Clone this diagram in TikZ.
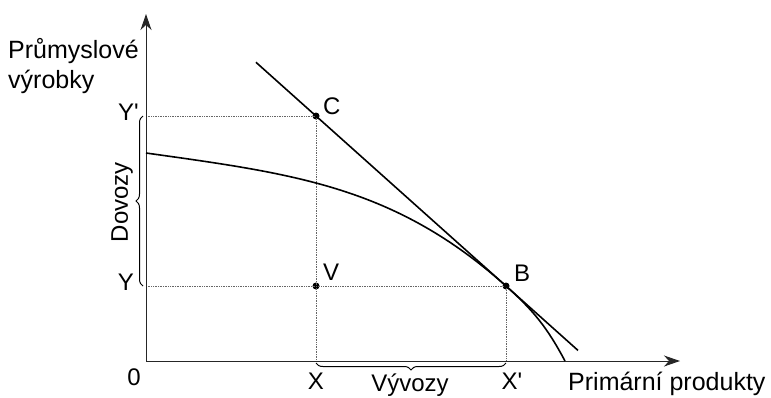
\documentclass[tikz,border=0pt]{standalone}
\usepackage{fontspec}
\setmainfont{Liberation Sans}
\usetikzlibrary{arrows.meta,calc,decorations.pathreplacing}
\begin{document}
\begin{tikzpicture}[x=1pt,y=-1pt,
  lbl/.style={inner sep=0pt,font=\fontsize{24}{28}\selectfont},
  axis/.style={line width=1pt,draw=black!85,-{Stealth[length=16pt,width=11pt,inset=5pt]}},
  guide/.style={densely dotted,draw=black!60,line width=0.7pt},
  thick curve/.style={line width=1.6pt},
  dotpt/.style={circle,fill=black,inner sep=0pt,minimum size=7pt},
  brc/.style={decorate,decoration={brace,amplitude=7pt},line width=1pt}]
\useasboundingbox (0,0) rectangle (771,397);
% key points
\coordinate (O) at (146,361);
\coordinate (Ytop) at (146,14);
\coordinate (Xend) at (680,361);
\coordinate (Yp) at (146,116);
\coordinate (Yv) at (146,286);
\coordinate (Xv) at (316,361);
\coordinate (Xp) at (506,361);
\coordinate (S) at (146,153);
\coordinate (E) at (565,361);
\node[dotpt] (C) at (316,116) {};
\node[dotpt] (V) at (316,286) {};
\node[dotpt] (B) at (506,286) {};
% guides
\draw[guide] (Yp) -- (C.center) -- (Xv);
\draw[guide] (Yv) -- (B.center) -- (Xp);
% axes
\draw[axis] (O) -- (Ytop);
\draw[axis] (O) -- (Xend);
% curve
\draw[thick curve] (S) to[out=-8,in=138.2] (B.center) to[out=-41.8,in=118] (E);
% tangent
\draw[thick curve] ($(C.center)!-0.316!(B.center)$) -- ($(C.center)!1.379!(B.center)$);
% braces
\draw[brc] (143,286) -- (143,116);
\draw[brc] (506,363) -- (316,363);
% labels
\node[lbl,anchor=base west] (t1) at (8,58) {\fontsize{25}{30}\selectfont Průmyslové};
\node[lbl,anchor=base west] (t2) at (8,88) {\fontsize{25}{30}\selectfont výrobky};
\node[lbl,anchor=base east] (lYp) at (139,120) {Y\textquotesingle};
\node[lbl,anchor=base east] (lY) at (134,290) {Y};
\node[lbl,anchor=base] (l0) at (134,385) {0};
\node[lbl,anchor=base] (lX) at (316,389) {X};
\node[lbl,anchor=base] (lXp) at (512,389) {X\textquotesingle};
\node[lbl,anchor=base] (lVy) at (410,391) {Vývozy};
\node[lbl,anchor=base west] (lP) at (568,390) {\fontsize{25}{30}\selectfont Primární produkty};
\node[lbl,anchor=base west] (lC) at (323,114) {C};
\node[lbl,anchor=base west] (lV) at (323,280) {V};
\node[lbl,anchor=base west] (lB) at (514,281) {B};
\node[lbl,rotate=90] (lD) at (122,202) {Dovozy};
\end{tikzpicture}
\end{document}
